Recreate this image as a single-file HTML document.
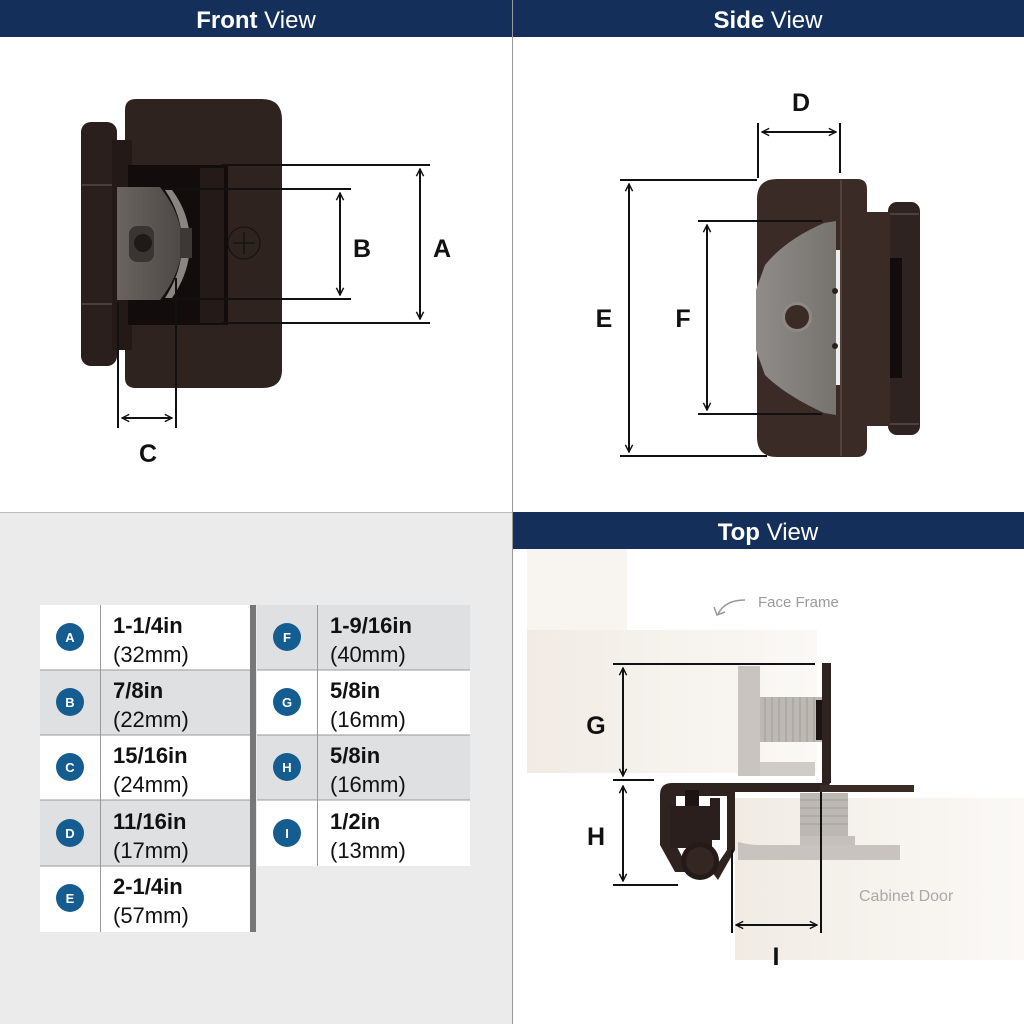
<!DOCTYPE html>
<html><head><meta charset="utf-8"><style>
html,body{margin:0;padding:0;width:1024px;height:1024px;overflow:hidden;background:#fff}
svg{display:block}
text{font-family:"Liberation Sans",sans-serif}
</style></head><body>
<svg width="1024" height="1024" viewBox="0 0 1024 1024" xmlns="http://www.w3.org/2000/svg">
<defs>
<marker id="ar" viewBox="0 0 10 10" refX="9" refY="5" markerWidth="9" markerHeight="9" orient="auto-start-reverse" markerUnits="userSpaceOnUse">
<path d="M1,1 L9,5 L1,9" fill="none" stroke="#111" stroke-width="1.6"/></marker>
<linearGradient id="wash" x1="0" x2="1"><stop offset="0" stop-color="#6a6460"/><stop offset="1" stop-color="#4d4845"/></linearGradient>
<linearGradient id="plate2" x1="0" x2="1"><stop offset="0" stop-color="#8f8c89"/><stop offset="1" stop-color="#76736f"/></linearGradient>
<linearGradient id="door" x1="0" x2="1"><stop offset="0" stop-color="#f1ebe4"/><stop offset="1" stop-color="#fbf9f6"/></linearGradient>
</defs>
<rect x="0" y="513" width="512" height="511" fill="#ebebeb"/>
<rect x="0" y="0" width="1024" height="37" fill="#14305a"/>
<rect x="513" y="512" width="511" height="37" fill="#14305a"/>
<line x1="512.5" y1="0" x2="512.5" y2="1024" stroke="#999" stroke-width="1"/>
<line x1="0" y1="512.5" x2="512" y2="512.5" stroke="#bbb" stroke-width="1"/>
<text x="256" y="28" text-anchor="middle" fill="#fff" font-size="24"><tspan font-weight="bold">Front</tspan> View</text>
<text x="768" y="28" text-anchor="middle" fill="#fff" font-size="24"><tspan font-weight="bold">Side</tspan> View</text>
<text x="768" y="540" text-anchor="middle" fill="#fff" font-size="24"><tspan font-weight="bold">Top</tspan> View</text>

<!-- FRONT VIEW -->
<rect x="81" y="122" width="36" height="244" rx="10" fill="#2a1f1c"/>
<line x1="82" y1="185" x2="116" y2="185" stroke="#777" stroke-width="0.8"/>
<line x1="82" y1="304" x2="116" y2="304" stroke="#777" stroke-width="0.8"/>
<path d="M125,110 Q125,99 136,99 L262,99 Q282,99 282,120 L282,370 Q282,388 262,388 L136,388 Q125,388 125,378 Z" fill="#2f2320"/>
<rect x="112" y="140" width="20" height="210" fill="#231a18"/>
<rect x="128" y="165" width="100" height="160" fill="#120d0c"/>
<rect x="200" y="168" width="24" height="155" fill="#241a18"/>
<path d="M117,187 L160,187 Q182,215 182,243 Q182,272 160,300 L117,300 Z" fill="url(#wash)"/>
<path d="M165,190 Q182,215 182,243 Q182,272 165,298 L172,298 Q190,272 190,243 Q190,214 172,190 Z" fill="#8a8580"/>
<rect x="180" y="228" width="12" height="30" fill="#3d3835"/>
<rect x="129" y="226" width="25" height="36" rx="8" fill="#3a3532"/>
<circle cx="143" cy="243" r="9" fill="#1e1a18"/>
<circle cx="244" cy="243" r="16" fill="none" stroke="#111" stroke-width="1"/>
<line x1="244" y1="232" x2="244" y2="254" stroke="#111" stroke-width="1.3"/>
<line x1="233" y1="243" x2="255" y2="243" stroke="#111" stroke-width="1.3"/>
<g stroke="#111" stroke-width="2" fill="none">
<line x1="222" y1="165" x2="430" y2="165"/><line x1="222" y1="323" x2="430" y2="323"/>
<line x1="420" y1="169" x2="420" y2="319" marker-start="url(#ar)" marker-end="url(#ar)"/>
<line x1="168" y1="189" x2="351" y2="189"/><line x1="168" y1="299" x2="351" y2="299"/>
<line x1="340" y1="193" x2="340" y2="295" marker-start="url(#ar)" marker-end="url(#ar)"/>
<line x1="118" y1="302" x2="118" y2="428"/><line x1="176" y1="278" x2="176" y2="428"/>
<line x1="122" y1="418" x2="172" y2="418" marker-start="url(#ar)" marker-end="url(#ar)"/>
</g>
<g font-weight="bold" font-size="25" fill="#111" text-anchor="middle">
<text x="442" y="257">A</text><text x="362" y="257">B</text><text x="148" y="462">C</text>
</g>

<!-- SIDE VIEW -->
<rect x="888" y="202" width="32" height="233" rx="9" fill="#2e2320"/>
<line x1="889" y1="214" x2="919" y2="214" stroke="#777" stroke-width="0.8"/>
<line x1="889" y1="424" x2="919" y2="424" stroke="#777" stroke-width="0.8"/>
<rect x="888" y="258" width="14" height="120" fill="#120d0c"/>
<rect x="860" y="212" width="30" height="214" fill="#3a2b27"/>
<path d="M777,179 L857,179 Q867,179 867,189 L867,447 Q867,457 857,457 L777,457 Q757,457 757,437 L757,199 Q757,179 777,179 Z" fill="#3a2b27"/>
<line x1="841" y1="180" x2="841" y2="456" stroke="#6b5a55" stroke-width="1"/>
<path d="M836,221 L824,223 Q785,240 765,265 L756,290 L756,350 L765,375 Q785,395 824,413 L836,415 Z" fill="url(#plate2)"/>
<rect x="836" y="250" width="4" height="135" fill="#eee"/>
<circle cx="835" cy="291" r="3" fill="#2a1f1c"/><circle cx="835" cy="346" r="3" fill="#2a1f1c"/>
<circle cx="797" cy="317" r="15" fill="#8d8986"/>
<circle cx="797" cy="317" r="12" fill="#3a2b27"/>
<g stroke="#111" stroke-width="2" fill="none">
<line x1="620" y1="180" x2="757" y2="180"/><line x1="620" y1="456" x2="767" y2="456"/>
<line x1="629" y1="184" x2="629" y2="452" marker-start="url(#ar)" marker-end="url(#ar)"/>
<line x1="698" y1="221" x2="822" y2="221"/><line x1="698" y1="414" x2="822" y2="414"/>
<line x1="707" y1="225" x2="707" y2="410" marker-start="url(#ar)" marker-end="url(#ar)"/>
<line x1="758" y1="123" x2="758" y2="178"/><line x1="840" y1="123" x2="840" y2="173"/>
<line x1="762" y1="132" x2="836" y2="132" marker-start="url(#ar)" marker-end="url(#ar)"/>
</g>
<g font-weight="bold" font-size="25" fill="#111" text-anchor="middle">
<text x="801" y="111">D</text><text x="604" y="327">E</text><text x="683" y="327">F</text>
</g>

<!-- TABLE -->
<g>
<rect x="40" y="605" width="210" height="327" fill="#fff"/>
<rect x="40" y="670" width="210" height="65" fill="#dfe0e2"/>
<rect x="40" y="800" width="210" height="66" fill="#dfe0e2"/>
<rect x="257" y="605" width="213" height="261" fill="#fff"/>
<rect x="257" y="605" width="213" height="65" fill="#dfe0e2"/>
<rect x="257" y="735" width="213" height="65" fill="#dfe0e2"/>
<rect x="250" y="605" width="6" height="327" fill="#777"/>
<g stroke="#999" stroke-width="1">
<line x1="40" y1="670" x2="250" y2="670"/><line x1="40" y1="735" x2="250" y2="735"/><line x1="40" y1="800" x2="250" y2="800"/><line x1="40" y1="866" x2="250" y2="866"/>
<line x1="257" y1="670" x2="470" y2="670"/><line x1="257" y1="735" x2="470" y2="735"/><line x1="257" y1="800" x2="470" y2="800"/>
<line x1="100.5" y1="605" x2="100.5" y2="932"/><line x1="317.5" y1="605" x2="317.5" y2="866"/>
</g>
<g fill="#155d91">
<circle cx="70" cy="637" r="14"/><circle cx="70" cy="702" r="14"/><circle cx="70" cy="767" r="14"/><circle cx="70" cy="833" r="14"/><circle cx="70" cy="898" r="14"/>
<circle cx="287" cy="637" r="14"/><circle cx="287" cy="702" r="14"/><circle cx="287" cy="767" r="14"/><circle cx="287" cy="833" r="14"/>
</g>
<g fill="#fff" font-weight="bold" font-size="13" text-anchor="middle">
<text x="70" y="642">A</text><text x="70" y="707">B</text><text x="70" y="772">C</text><text x="70" y="838">D</text><text x="70" y="903">E</text>
<text x="287" y="642">F</text><text x="287" y="707">G</text><text x="287" y="772">H</text><text x="287" y="838">I</text>
</g>
<g fill="#111" font-size="22">
<text x="113" y="633" font-weight="bold">1-1/4in</text><text x="113" y="662">(32mm)</text>
<text x="113" y="698" font-weight="bold">7/8in</text><text x="113" y="727">(22mm)</text>
<text x="113" y="763" font-weight="bold">15/16in</text><text x="113" y="792">(24mm)</text>
<text x="113" y="829" font-weight="bold">11/16in</text><text x="113" y="858">(17mm)</text>
<text x="113" y="894" font-weight="bold">2-1/4in</text><text x="113" y="923">(57mm)</text>
<text x="330" y="633" font-weight="bold">1-9/16in</text><text x="330" y="662">(40mm)</text>
<text x="330" y="698" font-weight="bold">5/8in</text><text x="330" y="727">(16mm)</text>
<text x="330" y="763" font-weight="bold">5/8in</text><text x="330" y="792">(16mm)</text>
<text x="330" y="829" font-weight="bold">1/2in</text><text x="330" y="858">(13mm)</text>
</g>
</g>

<!-- TOP VIEW -->
<rect x="527" y="549" width="100" height="82" fill="#f8f5f1"/>
<rect x="527" y="630" width="290" height="143" fill="url(#door)"/>
<rect x="735" y="798" width="289" height="162" fill="url(#door)"/>
<text x="758" y="607" font-size="15" fill="#9a9a9a">Face Frame</text>
<path d="M745,600 Q725,600 718,614" fill="none" stroke="#999" stroke-width="1.5"/>
<path d="M714,607 L717,615 L725,612" fill="none" stroke="#999" stroke-width="1.5"/>
<text x="859" y="901" font-size="16" fill="#a9a9a9">Cabinet Door</text>
<rect x="738" y="666" width="22" height="110" fill="#c9c4bf"/>
<rect x="760" y="697" width="62" height="45" fill="#bdb8b3"/>
<g stroke="#a09b96" stroke-width="1"><line x1="765" y1="697" x2="765" y2="742"/><line x1="772" y1="697" x2="772" y2="742"/><line x1="779" y1="697" x2="779" y2="742"/><line x1="786" y1="697" x2="786" y2="742"/><line x1="793" y1="697" x2="793" y2="742"/><line x1="800" y1="697" x2="800" y2="742"/><line x1="807" y1="697" x2="807" y2="742"/><line x1="814" y1="697" x2="814" y2="742"/></g>
<rect x="816" y="700" width="6" height="40" fill="#1c1412"/>
<rect x="760" y="762" width="55" height="14" fill="#d0cbc6"/>
<rect x="800" y="793" width="48" height="43" fill="#bdb8b3"/>
<g stroke="#a09b96" stroke-width="1"><line x1="800" y1="800" x2="848" y2="800"/><line x1="800" y1="808" x2="848" y2="808"/><line x1="800" y1="816" x2="848" y2="816"/><line x1="800" y1="824" x2="848" y2="824"/></g>
<rect x="800" y="836" width="55" height="10" fill="#c5c0bb"/>
<path d="M738,845 L900,845 L900,860 L738,860 L738,842 Q750,845 760,845 Z" fill="#c8c3be"/>
<!-- hinge -->
<rect x="822" y="663" width="9" height="120" fill="#2f2320"/>
<path d="M822,775 L831,775 Q831,792 818,792 L735,792 L735,850 L727,850 L727,783 L822,783 Z" fill="#2f2320"/>
<rect x="820" y="785" width="94" height="7" fill="#3a2b27"/>
<path d="M672,783 L727,783 L727,796 L676,796 L676,845 L690,872 L675,872 L660,845 L660,795 Q660,783 672,783 Z" fill="#2f2320"/>
<path d="M727,850 L735,850 L718,880 L712,872 Z" fill="#2f2320"/>
<rect x="685" y="790" width="14" height="18" fill="#1c1412"/>
<rect x="670" y="806" width="42" height="42" fill="#2a1f1c"/>
<rect x="710" y="798" width="10" height="42" fill="#2a1f1c"/>
<circle cx="700" cy="861" r="19" fill="#241a18"/>
<circle cx="700" cy="861" r="14" fill="#332623"/>
<g stroke="#111" stroke-width="2" fill="none">
<line x1="613" y1="664" x2="815" y2="664"/><line x1="613" y1="780" x2="654" y2="780"/>
<line x1="623" y1="668" x2="623" y2="776" marker-start="url(#ar)" marker-end="url(#ar)"/>
<line x1="613" y1="885" x2="678" y2="885"/>
<line x1="623" y1="786" x2="623" y2="881" marker-start="url(#ar)" marker-end="url(#ar)"/>
<line x1="732" y1="850" x2="732" y2="933"/><line x1="821" y1="792" x2="821" y2="933"/>
<line x1="736" y1="925" x2="817" y2="925" marker-start="url(#ar)" marker-end="url(#ar)"/>
</g>
<g font-weight="bold" font-size="25" fill="#111" text-anchor="middle">
<text x="596" y="734">G</text><text x="596" y="845">H</text><text x="776" y="965">I</text>
</g>
</svg>
</body></html>
